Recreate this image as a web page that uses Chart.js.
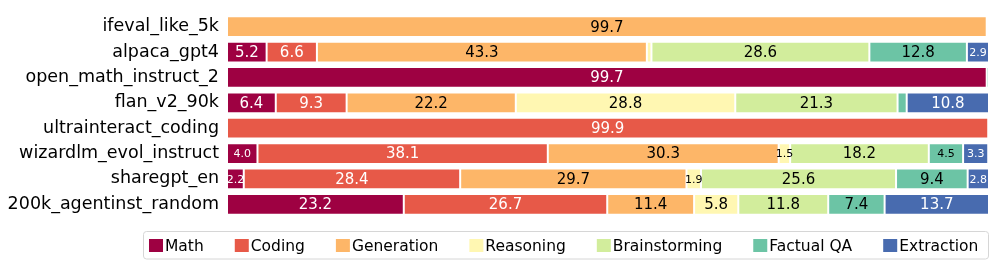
<!DOCTYPE html>
<html>
<head>
<meta charset="utf-8">
<script src="https://cdn.jsdelivr.net/npm/chart.js@4.4.1/dist/chart.umd.min.js"></script>
<style>
  body { margin: 0; background: #fff; }
</style>
</head>
<body>
<canvas id="myChart" width="997" height="267"></canvas>
<script>

// data, share of each category in %
var categories = ['ifeval_like_5k', 'alpaca_gpt4', 'open_math_instruct_2', 'flan_v2_90k',
  'ultrainteract_coding', 'wizardlm_evol_instruct', 'sharegpt_en', '200k_agentinst_random'];
var seriesNames = ['Math', 'Coding', 'Generation', 'Reasoning', 'Brainstorming', 'Factual QA', 'Extraction'];

var math          = [0,    5.2,  99.7, 6.4,  0,    4.0,  2.2,  23.2];
var coding        = [0,    6.6,  0,    9.3,  99.9, 38.1, 28.4, 26.7];
var generation    = [99.7, 43.3, 0,    22.2, 0,    30.3, 29.7, 11.4];
var reasoning     = [0,    0.6,  0,    28.8, 0,    1.5,  1.9,  5.8];
var brainstorming = [0,    28.6, 0,    21.3, 0,    18.2, 25.6, 11.8];
var factualQA     = [0,    12.8, 0.3,  1.2,  0,    4.5,  9.4,  7.4];
var extraction    = [0,    2.9,  0,    10.8, 0,    3.3,  2.8,  13.7];

var seriesValues = [math, coding, generation, reasoning, brainstorming, factualQA, extraction];

// spectral colours
var colors = ['#9e0142', '#e75948', '#fdb668', '#fff7b2', '#d2ed9c', '#6cc4a5', '#486baf'];
var textColors = ['#fff', '#fff', '#000', '#000', '#000', '#000', '#fff'];

var FONT = '"DejaVu Sans", sans-serif';

var datasets = [];
for (var i = 0; i < seriesNames.length; i++) {
  datasets.push({
    label: seriesNames[i],
    data: seriesValues[i].map(function (v) { return v > 0 ? v : null; }),
    backgroundColor: colors[i],
    borderColor: '#ffffff',
    borderWidth: 1,
    borderSkipped: false,
    categoryPercentage: 1.0,
    barPercentage: 0.82
  });
}

// numbers inside the segments
var barLabels = {
  id: 'barLabels',
  afterDatasetsDraw: function (chart) {
    var ctx = chart.ctx;
    ctx.save();
    ctx.textAlign = 'center';
    ctx.textBaseline = 'middle';
    chart.data.datasets.forEach(function (ds, di) {
      var meta = chart.getDatasetMeta(di);
      meta.data.forEach(function (bar, j) {
        var v = ds.data[j];
        if (v == null || v < 1.5) return;
        ctx.font = (v < 5 ? '11px ' : '15px ') + FONT;
        ctx.fillStyle = textColors[di];
        ctx.fillText(v.toFixed(1), (bar.x + bar.base) / 2, bar.y + 1);
      });
    });
    ctx.restore();
  }
};

// legend in a rounded box, matplotlib style
var boxLegend = {
  id: 'boxLegend',
  afterDraw: function (chart) {
    var ctx = chart.ctx;
    ctx.save();
    ctx.font = '15.5px ' + FONT;
    var left = 143, right = 988, top = 231.5, bottom = 259;
    ctx.strokeStyle = '#d6d6d6';
    ctx.lineWidth = 1;
    ctx.beginPath();
    ctx.roundRect(left + 0.5, top, right - left, bottom - top, 3);
    ctx.stroke();

    var x = 149;
    var cy = 245.5;
    ctx.textBaseline = 'middle';
    ctx.textAlign = 'left';
    for (var i = 0; i < seriesNames.length; i++) {
      ctx.fillStyle = colors[i];
      ctx.fillRect(x, cy - 6.5, 14, 13);
      ctx.fillStyle = '#000';
      ctx.fillText(seriesNames[i], x + 16, cy + 1);
      x = x + 16 + ctx.measureText(seriesNames[i]).width + 31;
    }
    ctx.restore();
  }
};

var myChart = new Chart(document.getElementById('myChart').getContext('2d'), {
  type: 'bar',
  data: {
    labels: categories,
    datasets: datasets
  },
  options: {
    indexAxis: 'y',
    responsive: false,
    animation: false,
    layout: { padding: { left: 0, right: 8, top: 14, bottom: 50 } },
    plugins: {
      legend: { display: false },
      tooltip: { enabled: false }
    },
    scales: {
      x: {
        stacked: true,
        display: false,
        min: 0,
        max: 100
      },
      y: {
        stacked: true,
        grid: { display: false },
        border: { display: false },
        ticks: {
          color: '#000',
          padding: 0,
          font: { family: FONT, size: 17.5 }
        },
        afterFit: function (scale) { scale.width = 227; }
      }
    }
  },
  plugins: [barLabels, boxLegend]
});

</script>
</body>
</html>
